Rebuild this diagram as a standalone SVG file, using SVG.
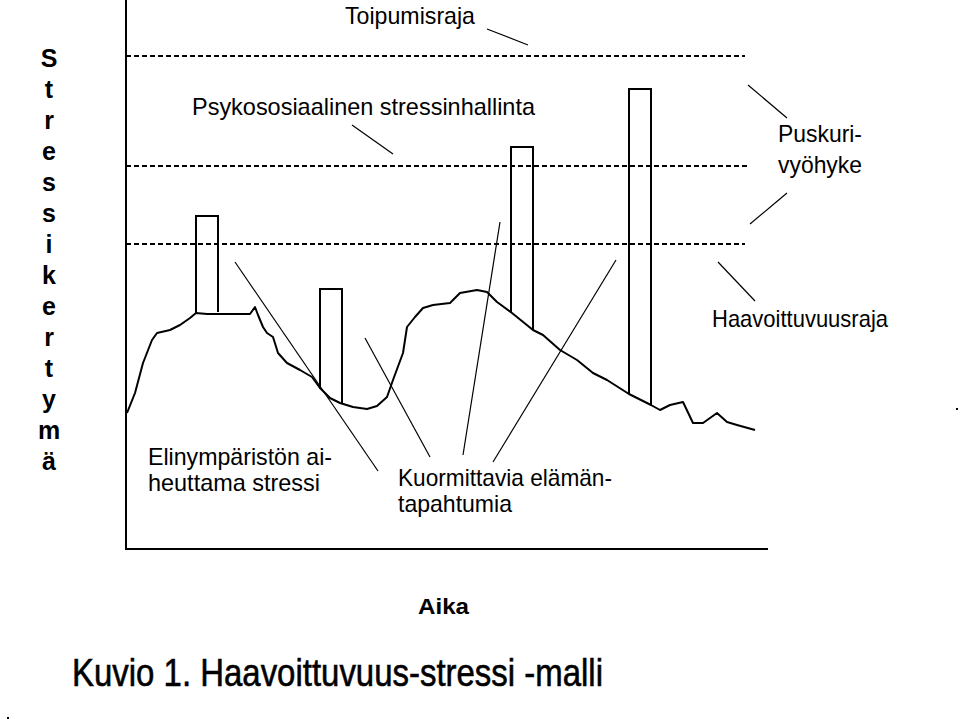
<svg xmlns="http://www.w3.org/2000/svg" width="960" height="725" viewBox="0 0 960 725">
<style>
.lbl{font-family:"Liberation Sans",Arial,sans-serif;font-size:24px;fill:#000}
.bold{font-family:"Liberation Sans",Arial,sans-serif;font-weight:bold;fill:#000}
.axis{stroke:#000;stroke-width:2;fill:none}
.dash{stroke:#000;stroke-width:2;stroke-dasharray:5,3;fill:none}
.bar{stroke:#000;stroke-width:2;fill:none}
.curve{stroke:#000;stroke-width:2;fill:none;stroke-linejoin:round}
.lead{stroke:#000;stroke-width:1.2;fill:none}
</style>
<rect width="960" height="725" fill="#fff"/>
<g id="axes">
<path class="axis" d="M126,0 V549 H768"/>
</g>
<g id="limits">
<line class="dash" x1="126" y1="56" x2="745" y2="56"/>
<line class="dash" x1="126" y1="166" x2="748" y2="166"/>
<line class="dash" x1="126" y1="244" x2="745" y2="244"/>
</g>
<g id="stress-curve">
<path class="curve" d="M127,413 L135,393 L143,363 L152,340 L157,333 L170,330 L180,325 L190,318 L196,313 L207,314 L250,314 L255,307 L258,315 L263,327 L267,333 L273,337 L278,353 L287,363 L300,370 L312,377 L320,388 L330,398 L340,403 L353,407 L367,409 L377,406 L387,397 L393,380 L403,353 L407,327 L415,317 L423,308 L433,305 L450,303 L460,293 L477,290 L487,292 L497,302 L512,313 L533,330 L543,335 L560,350 L577,360 L593,373 L607,380 L629,394 L651,405 L660,410 L670,405 L683,402 L693,423 L703,423 L717,413 L727,422 L737,425 L755,430"/>
</g>
<g id="events">
<path class="bar" d="M196,313 V216 H218 V312"/>
<path class="bar" d="M320,389 V289 H342 V403"/>
<path class="bar" d="M511,313 V147 H533 V330"/>
<path class="bar" d="M629,394 V89 H651 V405"/>
</g>
<g id="connectors">
<line class="lead" x1="487" y1="29" x2="528" y2="45"/>
<line class="lead" x1="352" y1="125" x2="393" y2="154"/>
<line class="lead" x1="748" y1="85" x2="787" y2="118"/>
<line class="lead" x1="787" y1="193" x2="750" y2="224"/>
<line class="lead" x1="718" y1="262" x2="755" y2="301"/>
<line class="lead" x1="235" y1="262" x2="378" y2="471"/>
<line class="lead" x1="365" y1="338" x2="430" y2="457"/>
<line class="lead" x1="500" y1="222" x2="463" y2="455"/>
<line class="lead" x1="616" y1="260" x2="493" y2="462"/>
</g>
<g id="label-toipumisraja">
<text class="lbl" x="345" y="24" textLength="130" lengthAdjust="spacingAndGlyphs">Toipumisraja</text>
</g>
<g id="label-psykososiaalinen">
<text class="lbl" x="192" y="115" textLength="343" lengthAdjust="spacingAndGlyphs">Psykososiaalinen stressinhallinta</text>
</g>
<g id="label-puskuri">
<text class="lbl" x="778" y="142" textLength="84" lengthAdjust="spacingAndGlyphs">Puskuri-</text>
<text class="lbl" x="778" y="173" textLength="84" lengthAdjust="spacingAndGlyphs">vyöhyke</text>
</g>
<g id="label-haavoittuvuusraja">
<text class="lbl" x="712" y="327" textLength="176" lengthAdjust="spacingAndGlyphs">Haavoittuvuusraja</text>
</g>
<g id="label-elinymparisto">
<text class="lbl" x="148" y="465" textLength="184" lengthAdjust="spacingAndGlyphs">Elinympäristön ai-</text>
<text class="lbl" x="148" y="491" textLength="172" lengthAdjust="spacingAndGlyphs">heuttama stressi</text>
</g>
<g id="label-kuormittavia">
<text class="lbl" x="398" y="486" textLength="214" lengthAdjust="spacingAndGlyphs">Kuormittavia elämän-</text>
<text class="lbl" x="398" y="512" textLength="114" lengthAdjust="spacingAndGlyphs">tapahtumia</text>
</g>
<g id="y-label" class="bold" font-size="25" text-anchor="middle">
<text x="49" y="67">S</text>
<text x="49" y="98">t</text>
<text x="49" y="129">r</text>
<text x="49" y="160">e</text>
<text x="49" y="191">s</text>
<text x="49" y="222">s</text>
<text x="49" y="253">i</text>
<text x="49" y="284">k</text>
<text x="49" y="315">e</text>
<text x="49" y="346">r</text>
<text x="49" y="377">t</text>
<text x="49" y="408">y</text>
<text x="49" y="439">m</text>
<text x="49" y="470">ä</text>
</g>
<g id="x-label">
<text class="bold" x="418" y="614" font-size="22" textLength="51" lengthAdjust="spacingAndGlyphs">Aika</text>
</g>
<g id="caption">
<text x="72" y="686" font-family="'Liberation Sans',Arial,sans-serif" font-size="39" stroke="#000" stroke-width="0.6" textLength="531" lengthAdjust="spacingAndGlyphs">Kuvio 1. Haavoittuvuus-stressi -malli</text>
</g>
<rect x="956" y="408" width="2" height="2" fill="#000"/>
<rect x="7" y="717" width="2" height="2" fill="#000"/>
</svg>
